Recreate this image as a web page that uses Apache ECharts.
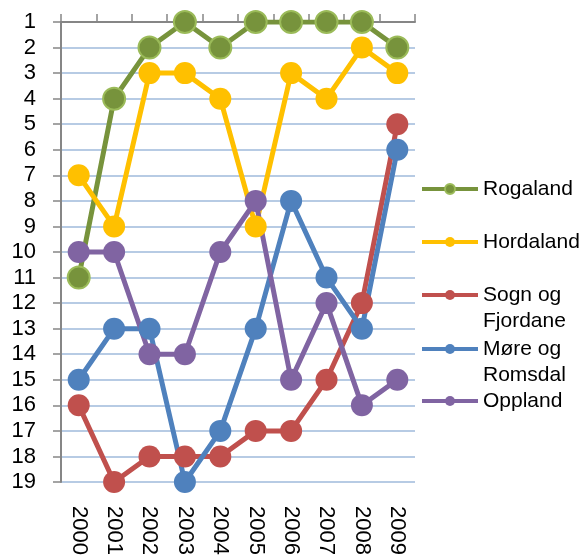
<!DOCTYPE html>
<html><head><meta charset="utf-8">
<script src="https://cdn.jsdelivr.net/npm/echarts@6/dist/echarts.min.js"></script>
<style>html,body{margin:0;padding:0;background:#fff}#c{width:579px;height:559px}</style>
</head><body><div id="c"></div>
<script>
const years = ['2000','2001','2002','2003','2004','2005','2006','2007','2008','2009'];
const rogaland = [11,4,2,1,2,1,1,1,1,2];
const hordaland = [7,9,3,3,4,9,3,4,2,3];
const sognOgFjordane = [16,19,18,18,18,17,17,15,12,5];
const moreOgRomsdal = [15,13,13,19,17,13,8,11,13,6];
const oppland = [10,10,14,14,10,8,15,12,16,15];
const seriesNames = ['Rogaland','Hordaland','Sogn og Fjordane','Møre og Romsdal','Oppland'];
const legendLabels = ['Rogaland','Hordaland','\nSogn og\nFjordane','\nMøre og\nRomsdal','Oppland'];

const FONT = '"Liberation Sans", Arial, sans-serif';
const colors = ['#77933C','#FFC000','#C0504D','#4F81BD','#8064A2'];
const borders = ['#9BBB59','#FFC000','#C0504D','#4F81BD','#8064A2'];
const allData = [rogaland, hordaland, sognOgFjordane, moreOgRomsdal, oppland];
const legendTops = [176, 229, 256, 310, 388];

const chart = echarts.init(document.getElementById('c'), null, {renderer:'canvas'});
const legends = seriesNames.map((n, i) => ({
  data: [n], orient: 'vertical', left: 420, top: legendTops[i], padding: 0,
  itemWidth: 56, itemHeight: 12.5, selectedMode: false,
  formatter: () => legendLabels[i],
  lineStyle: {width: 4},
  textStyle: {fontFamily: FONT, fontSize: 21, color: '#000', lineHeight: 26}
}));
chart.setOption({
  animation: false,
  color: colors,
  legend: legends,
  grid: {left: 61, right: 164, top: 22, bottom: 77, containLabel: false},
  xAxis: [{
    type: 'category', data: years, position: 'bottom',
    axisLine: {show: false, onZero: false}, axisTick: {show: false},
    axisLabel: {rotate: -90, margin: 24, fontFamily: FONT, fontSize: 22, color: '#000'}
  }, {
    type: 'category', data: years, position: 'top',
    axisLine: {show: true, onZero: false, lineStyle: {color: '#868686', width: 2}},
    axisTick: {show: true, length: 8, lineStyle: {color: '#868686', width: 1.5}},
    axisLabel: {show: false}
  }],
  yAxis: {
    type: 'value', inverse: true, min: 1, max: 19, interval: 1,
    axisLine: {show: true, lineStyle: {color: '#868686', width: 2}},
    axisTick: {show: true, length: 8, lineStyle: {color: '#868686', width: 1.5}},
    axisLabel: {margin: 25, fontFamily: FONT, fontSize: 22, color: '#000'},
    splitLine: {show: true, lineStyle: {color: '#B7CBE4', width: 2}}
  },
  series: seriesNames.map((n, i) => ({
    name: n, type: 'line', data: allData[i], xAxisIndex: 0,
    symbol: 'circle', symbolSize: 22,
    lineStyle: {width: 5, color: colors[i]},
    itemStyle: {color: colors[i], borderColor: borders[i], borderWidth: i === 0 ? 2 : 0},
    emphasis: {disabled: true}
  }))
});
</script></body></html>
